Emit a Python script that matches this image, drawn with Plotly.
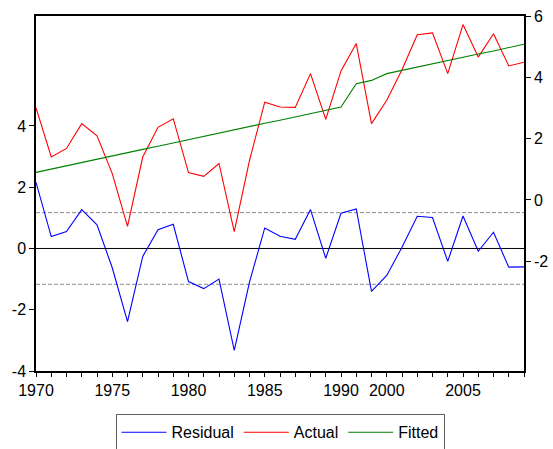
import plotly.graph_objects as go

years = [str(y) for y in range(1970, 1991)] + ["1998", "1999"] + [str(y) for y in range(2000, 2010)]

residual = [2.16, 0.39, 0.55, 1.27, 0.77, -0.63, -2.39, -0.26, 0.61, 0.79,
            -1.08, -1.31, -1.00, -3.33, -1.10, 0.67, 0.40, 0.30, 1.27, -0.32,
            1.15, 1.29, -1.40, -0.88, 0.04, 1.05, 1.01, -0.42, 1.06, -0.09,
            0.53, -0.61, -0.60]
actual = [3.01, 1.40, 1.68, 2.49, 2.09, 0.86, -0.86, 1.40, 2.37, 2.65,
          0.89, 0.77, 1.19, -1.03, 1.29, 3.19, 3.03, 3.02, 4.12, 2.63,
          4.21, 5.10, 2.49, 3.25, 4.25, 5.39, 5.45, 4.12, 5.72, 4.66,
          5.42, 4.37, 4.49]
fitted = [0.90, 1.01, 1.11, 1.22, 1.33, 1.43, 1.54, 1.65, 1.75, 1.86,
          1.97, 2.07, 2.18, 2.29, 2.39, 2.50, 2.60, 2.71, 2.82, 2.92,
          3.03, 3.79, 3.90, 4.12, 4.23, 4.33, 4.44, 4.55, 4.65, 4.76,
          4.86, 4.97, 5.08]
se_band = 1.17
labeled_years = ["1970", "1975", "1980", "1985", "1990", "2000", "2005"]
left_ticks = [-4, -2, 0, 2, 4]
right_ticks = [-2, 0, 2, 4, 6]

font = "Liberation Sans, Arial, sans-serif"

fig = go.Figure()
fig.add_trace(go.Scatter(x=years, y=residual, name="Residual", mode="lines",
                         line=dict(color="#0000FF", width=1.1), yaxis="y"))
fig.add_trace(go.Scatter(x=years, y=actual, name="Actual", mode="lines",
                         line=dict(color="#FF0000", width=1.1), yaxis="y2"))
fig.add_trace(go.Scatter(x=years, y=fitted, name="Fitted", mode="lines",
                         line=dict(color="#008000", width=1.1), yaxis="y2"))

for v, dash, col in [(0, "solid", "black"), (se_band, "4px,2px", "#8c8c8c"), (-se_band, "4px,2px", "#8c8c8c")]:
    fig.add_shape(type="line", xref="paper", x0=0, x1=1, yref="y", y0=v, y1=v,
                  line=dict(color=col, width=1, dash=dash), layer="below")

fig.update_layout(
    width=553, height=449,
    margin=dict(l=36, r=29, t=16, b=78, autoexpand=False),
    paper_bgcolor="white", plot_bgcolor="white",
    font=dict(family=font, size=16, color="black"),
    showlegend=True,
    legend=dict(orientation="h", x=0.5, xanchor="center", y=-0.122, yanchor="top",
                bordercolor="#606060", borderwidth=1, font=dict(size=16),
                itemwidth=45, tracegroupgap=0),
    xaxis=dict(type="category", range=[0, len(years) - 1],
               tickmode="array", tickvals=years,
               ticktext=[y if y in labeled_years else "" for y in years],
               ticks="outside", ticklen=4, tickcolor="black",
               showline=True, linecolor="black", linewidth=1.5, mirror=True,
               showgrid=False, zeroline=False, tickfont=dict(size=16)),
    yaxis=dict(range=[-4, 7.59], tickvals=left_ticks,
               ticktext=[str(t) for t in left_ticks], ticks="outside", ticklen=5,
               tickcolor="black", showline=True, linecolor="black", linewidth=1.5,
               showgrid=False, zeroline=False, tickfont=dict(size=16)),
    yaxis2=dict(range=[-5.58, 6], tickvals=right_ticks,
                ticktext=[str(t) for t in right_ticks], overlaying="y", side="right",
                ticks="outside", ticklen=5, tickcolor="black", showline=True,
                linecolor="black", linewidth=1.5, showgrid=False, zeroline=False,
                tickfont=dict(size=16)),
)

fig.write_html("out.html", config={"displayModeBar": False},
               post_script="document.body.style.margin='0';")
